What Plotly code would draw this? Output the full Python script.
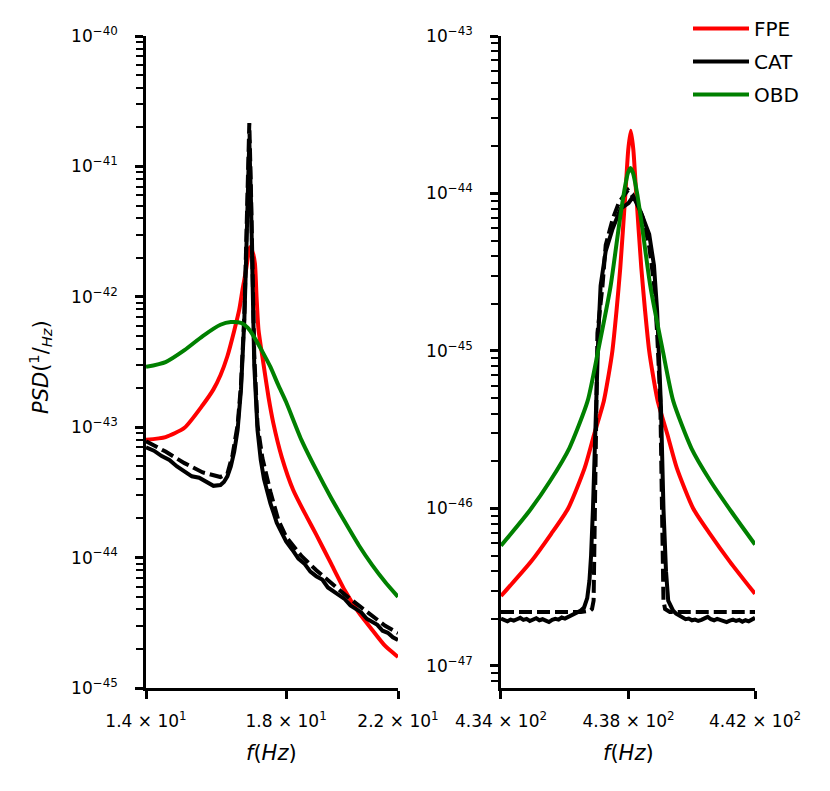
import plotly.graph_objects as go

# ---------------- Left panel: low-frequency line (Hz, 1/Hz) ----------------
f_fpe_lo = [14.0, 14.5, 15.0, 15.5, 15.8, 16.0, 16.2, 16.4, 16.55, 16.65, 16.75, 16.87,
            16.95, 17.02, 17.07, 17.13, 17.28, 17.44, 17.59, 17.86, 18.23, 18.68, 19.0,
            19.5, 20.0, 20.5, 21.0, 21.5, 22.0]
psd_fpe_lo = [8.0e-44, 8.4e-44, 9.9e-44, 1.48e-43, 1.95e-43, 2.5e-43, 3.5e-43, 5.5e-43,
              8.0e-43, 1.15e-42, 1.6e-42, 2.4e-42, 2.2e-42, 1.8e-42, 1.0e-42, 5.6e-43,
              3.1e-43, 1.7e-43, 1.08e-43, 5.9e-44, 3.3e-44, 2.05e-44, 1.5e-44, 9.1e-45,
              5.6e-45, 3.8e-45, 2.8e-45, 2.1e-45, 1.73e-45]

f_obd_lo = [14.0, 14.5, 15.0, 15.5, 16.0, 16.3, 16.6, 16.8, 17.0, 17.25, 17.5, 17.75,
            18.0, 18.5, 19.0, 19.5, 20.0, 20.5, 21.0, 21.5, 22.0]
psd_obd_lo = [2.9e-43, 3.16e-43, 3.9e-43, 5.0e-43, 6.1e-43, 6.4e-43, 6.3e-43, 5.8e-43,
              4.9e-43, 3.8e-43, 2.9e-43, 2.1e-43, 1.56e-43, 8.0e-44, 4.7e-44, 2.9e-44,
              1.88e-44, 1.25e-44, 8.8e-45, 6.5e-45, 5.0e-45]

f_cat_lo = [14.0, 14.2, 14.4, 14.6, 14.8, 15.0, 15.2, 15.4, 15.6, 15.8, 16.0, 16.1,
            16.2, 16.3, 16.4, 16.5, 16.6, 16.7, 16.75, 16.8, 16.85, 16.9, 16.95, 17.0,
            17.1, 17.2, 17.3, 17.4, 17.5, 17.6, 17.7, 17.8, 17.9, 18.0, 18.2, 18.4,
            18.6, 18.8, 19.0, 19.2, 19.4, 19.6, 19.8, 20.0, 20.2, 20.4, 20.6, 20.8,
            21.0, 21.2, 21.4, 21.6, 21.8, 22.0]
psd_cat_lo = [7.0e-44, 6.6e-44, 6.0e-44, 5.6e-44, 5.0e-44, 4.6e-44, 4.2e-44, 4.1e-44,
              3.8e-44, 3.55e-44, 3.6e-44, 3.8e-44, 4.2e-44, 5.0e-44, 6.5e-44, 9.5e-44,
              1.93e-43, 6.6e-43, 1.8e-42, 5.5e-42, 1.6e-41, 5.5e-42, 9.0e-43, 3.0e-43,
              9.5e-44, 5.6e-44, 4.0e-44, 3.1e-44, 2.6e-44, 2.2e-44, 1.85e-44, 1.65e-44,
              1.5e-44, 1.33e-44, 1.15e-44, 9.8e-45, 9.0e-45, 7.8e-45, 7.2e-45, 6.8e-45,
              5.9e-45, 5.5e-45, 5.1e-45, 4.8e-45, 4.3e-45, 4.0e-45, 3.8e-45, 3.4e-45,
              3.2e-45, 3.05e-45, 2.75e-45, 2.65e-45, 2.45e-45, 2.33e-45]

f_cat2_lo = [14.0, 14.5, 15.0, 15.5, 16.0, 16.2, 16.35, 16.5, 16.6, 16.7, 16.75, 16.8,
             16.85, 16.9, 16.95, 17.0, 17.1, 17.25, 17.5, 17.75, 18.0, 18.5, 19.0, 19.5,
             20.0, 20.5, 21.0, 21.5, 22.0]
psd_cat2_lo = [7.8e-44, 6.5e-44, 5.3e-44, 4.5e-44, 4.15e-44, 4.4e-44, 6.1e-44, 1.04e-43,
               2.1e-43, 7.2e-43, 2.2e-42, 6.6e-42, 2.15e-41, 6.6e-42, 1.1e-42, 3.6e-43,
               1.04e-43, 5.8e-44, 3.2e-44, 1.94e-44, 1.44e-44, 1.03e-44, 8.0e-45, 6.4e-45,
               5.2e-45, 4.3e-45, 3.6e-45, 3.0e-45, 2.64e-45]

# ---------------- Right panel: high-frequency line ----------------
f_fpe_hi = [434.00, 434.94, 435.57, 436.10, 436.62, 436.92, 437.22, 437.37, 437.49, 437.62,
            437.74, 437.90, 437.99, 438.07, 438.15, 438.24, 438.40, 438.52, 438.65, 438.77,
            438.92, 439.22, 439.52, 440.04, 440.57, 441.20, 442.00]
psd_fpe_hi = [2.78e-47, 4.6e-47, 6.9e-47, 1.0e-46, 1.81e-46, 2.97e-46, 4.8e-46, 7.0e-46,
              1.0e-45, 1.8e-45, 3.4e-45, 1.0e-44, 1.9e-44, 2.5e-44, 1.9e-44, 1.0e-44,
              3.4e-45, 1.8e-45, 1.0e-45, 7.0e-46, 4.8e-46, 2.97e-46, 1.81e-46, 1.0e-46,
              6.9e-47, 4.6e-47, 2.87e-47]

f_obd_hi = [434.00, 434.88, 435.54, 436.14, 436.71, 437.04, 437.43, 437.71, 437.85, 437.98,
            438.06, 438.14, 438.27, 438.41, 438.69, 439.08, 439.41, 439.98, 440.58, 441.24,
            442.00]
psd_obd_hi = [5.8e-47, 9.6e-47, 1.5e-46, 2.42e-46, 4.8e-46, 1.0e-45, 2.55e-45, 6.5e-45,
              1.0e-44, 1.35e-44, 1.45e-44, 1.35e-44, 1.0e-44, 6.5e-45, 2.55e-45, 1.0e-45,
              4.8e-46, 2.42e-46, 1.5e-46, 9.6e-47, 5.9e-47]

f_cat_hi = [434.0, 434.1, 434.2, 434.3, 434.4, 434.5, 434.6, 434.7, 434.8, 434.9, 435.0,
            435.1, 435.2, 435.3, 435.4, 435.5, 435.6, 435.7, 435.8, 435.9, 436.0, 436.1,
            436.2, 436.3, 436.4, 436.5, 436.6, 436.7, 436.77, 436.82, 436.88, 436.93,
            436.98, 437.05, 437.12, 437.28, 437.5, 437.75, 438.0, 438.15, 438.4, 438.65,
            438.8, 438.9, 438.97, 439.02, 439.1, 439.18, 439.25, 439.35, 439.4, 439.5,
            439.6, 439.7, 439.8, 439.9, 440.0, 440.1, 440.2, 440.3, 440.4, 440.5, 440.6,
            440.7, 440.8, 440.9, 441.0, 441.1, 441.2, 441.3, 441.4, 441.5, 441.6, 441.7,
            441.8, 441.9, 442.0]
psd_cat_hi = [2.0e-47, 1.95e-47, 1.92e-47, 1.97e-47, 1.94e-47, 1.98e-47, 2.02e-47, 1.96e-47,
              1.99e-47, 1.93e-47, 1.97e-47, 2.01e-47, 1.95e-47, 1.98e-47, 1.94e-47, 1.9e-47,
              1.96e-47, 1.99e-47, 1.97e-47, 2.03e-47, 2.0e-47, 2.05e-47, 2.1e-47, 2.15e-47,
              2.2e-47, 2.25e-47, 2.35e-47, 2.7e-47, 3.5e-47, 5.0e-47, 1.0e-46, 2.5e-46,
              5.0e-46, 1.3e-45, 2.6e-45, 4.3e-45, 6.0e-45, 8.0e-45, 8.7e-45, 9.6e-45,
              7.5e-45, 5.5e-45, 3.5e-45, 1.8e-45, 8.0e-46, 4.5e-46, 1.0e-46, 4.0e-47,
              2.6e-47, 2.3e-47, 2.25e-47, 2.15e-47, 2.08e-47, 2.03e-47, 1.98e-47, 2.0e-47,
              1.95e-47, 1.97e-47, 1.93e-47, 1.96e-47, 2.02e-47, 2.05e-47, 1.98e-47, 1.95e-47,
              1.99e-47, 1.96e-47, 1.92e-47, 1.9e-47, 1.94e-47, 1.97e-47, 1.93e-47, 1.96e-47,
              1.91e-47, 1.95e-47, 1.92e-47, 1.97e-47, 2.02e-47]

f_cat2_hi = [434.0, 435.0, 436.0, 436.5, 436.8, 436.85, 436.9, 436.94, 436.97, 437.02,
             437.18, 437.28, 437.5, 437.7, 437.98, 438.25, 438.45, 438.65, 438.8, 438.9,
             439.0, 439.05, 439.1, 439.15, 439.3, 440.0, 441.0, 442.0]
psd_cat2_hi = [2.2e-47, 2.2e-47, 2.2e-47, 2.2e-47, 2.25e-47, 2.3e-47, 2.6e-47, 1.0e-46,
               4.0e-46, 1.3e-45, 2.6e-45, 4.7e-45, 6.9e-45, 8.8e-45, 1.05e-44, 8.9e-45,
               7.0e-45, 4.6e-45, 2.7e-45, 1.3e-45, 4.8e-46, 1.0e-46, 2.6e-47, 2.3e-47,
               2.2e-47, 2.2e-47, 2.2e-47, 2.2e-47]

# axis tick labels
x_ticks_lo = [14, 18, 22]
x_text_lo = ["1.4 × 10<sup>1</sup>", "1.8 × 10<sup>1</sup>", "2.2 × 10<sup>1</sup>"]
x_ticks_hi = [434, 438, 442]
x_text_hi = ["4.34 × 10<sup>2</sup>", "4.38 × 10<sup>2</sup>", "4.42 × 10<sup>2</sup>"]
y_exp_lo = [-45, -44, -43, -42, -41, -40]
y_exp_hi = [-47, -46, -45, -44, -43]

RED, BLACK, GREEN = "#ff0000", "#000000", "#008000"
LW = 4
FONT = "DejaVu Sans"
DASH = "13px,5px"
W, H = 830, 791

fig = go.Figure()

def add(x, y, color, name, ax, dash="solid", show=False, smooth=False):
    line = dict(color=color, width=LW, dash=dash)
    if smooth:
        line.update(shape="spline", smoothing=0.6)
    fig.add_trace(go.Scatter(
        x=x, y=y, mode="lines", name=name, legendgroup=name + ax + dash,
        showlegend=show, line=line,
        xaxis="x" if ax == "1" else "x2", yaxis="y" if ax == "1" else "y2"))

add(f_fpe_lo, psd_fpe_lo, RED, "FPE", "1", show=True, smooth=True)
add(f_cat_lo, psd_cat_lo, BLACK, "CAT", "1", show=True)
add(f_cat2_lo, psd_cat2_lo, BLACK, "CAT", "1", dash=DASH)
add(f_obd_lo, psd_obd_lo, GREEN, "OBD", "1", show=True, smooth=True)
add(f_fpe_hi, psd_fpe_hi, RED, "FPE", "2", smooth=True)
add(f_cat_hi, psd_cat_hi, BLACK, "CAT", "2")
add(f_cat2_hi, psd_cat2_hi, BLACK, "CAT", "2", dash=DASH)
add(f_obd_hi, psd_obd_hi, GREEN, "OBD", "2", smooth=True)

def minor_vals(e0, e1):
    return [k * 10.0 ** e for e in range(e0, e1) for k in range(2, 10)]

common_x = dict(type="log", showline=True, linewidth=2.5, linecolor="black",
                ticks="outside", ticklen=8, tickwidth=2.5, tickcolor="black",
                showgrid=False, zeroline=False, tickmode="array", automargin=False,
                tickfont=dict(family=FONT, size=17, color="black"),
                ticklabelstandoff=8)
common_y = dict(type="log", showline=True, linewidth=2.5, linecolor="black",
                ticks="outside", ticklen=8, tickwidth=2.5, tickcolor="black",
                showgrid=False, zeroline=False, tickmode="array", automargin=False,
                tickfont=dict(family=FONT, size=17, color="black"),
                ticklabelstandoff=14)

y_dom = [1 - 688 / H, 1 - 36 / H]

fig.update_layout(
    width=W, height=H,
    margin=dict(l=0, r=0, t=0, b=0, autoexpand=False),
    paper_bgcolor="white", plot_bgcolor="white",
    font=dict(family=FONT, color="black"),
    xaxis=dict(common_x, domain=[146 / W, 398 / W],
               range=[1.146128, 1.342423],
               tickvals=x_ticks_lo, ticktext=x_text_lo, anchor="y"),
    yaxis=dict(common_y, domain=y_dom, range=[-45, -40],
               tickvals=[10.0 ** e for e in y_exp_lo],
               ticktext=["10<sup>−%d</sup>" % (-e) for e in y_exp_lo],
               minor=dict(tickmode="array", tickvals=minor_vals(-45, -40),
                          ticks="outside", ticklen=7, tickwidth=2, tickcolor="black"),
               anchor="x"),
    xaxis2=dict(common_x, domain=[501 / W, 755 / W],
                range=[2.637490, 2.645422],
                tickvals=x_ticks_hi, ticktext=x_text_hi, anchor="y2"),
    yaxis2=dict(common_y, domain=y_dom, range=[-47.14, -43],
                tickvals=[10.0 ** e for e in y_exp_hi],
                ticktext=["10<sup>−%d</sup>" % (-e) for e in y_exp_hi],
                minor=dict(tickmode="array", tickvals=minor_vals(-48, -43),
                           ticks="outside", ticklen=7, tickwidth=2, tickcolor="black"),
                anchor="x2"),
    legend=dict(x=688 / W, y=1 - 9 / H, xanchor="left", yanchor="top",
                xref="container", yref="container",
                font=dict(family=FONT, size=20, color="black"),
                bgcolor="rgba(0,0,0,0)", tracegroupgap=4, itemwidth=56),
    annotations=[
        dict(text="<i>PSD</i>(<sup>1</sup>/<sub><i>Hz</i></sub>)", textangle=-90,
             x=40 / W, y=1 - 367 / H, xref="paper", yref="paper",
             xanchor="center", yanchor="middle",
             showarrow=False, font=dict(family=FONT, size=21, color="black")),
        dict(text="<i>f</i>(<i>Hz</i>)", x=271 / W, y=1 - 753 / H,
             xref="paper", yref="paper", xanchor="center", yanchor="middle",
             showarrow=False, font=dict(family=FONT, size=21, color="black")),
        dict(text="<i>f</i>(<i>Hz</i>)", x=628 / W, y=1 - 753 / H,
             xref="paper", yref="paper", xanchor="center", yanchor="middle",
             showarrow=False, font=dict(family=FONT, size=21, color="black")),
    ],
)

fig.write_html("out.html", config={"displayModeBar": False},
               post_script="document.body.style.margin='0px';"
                           "document.body.style.padding='0px';")
